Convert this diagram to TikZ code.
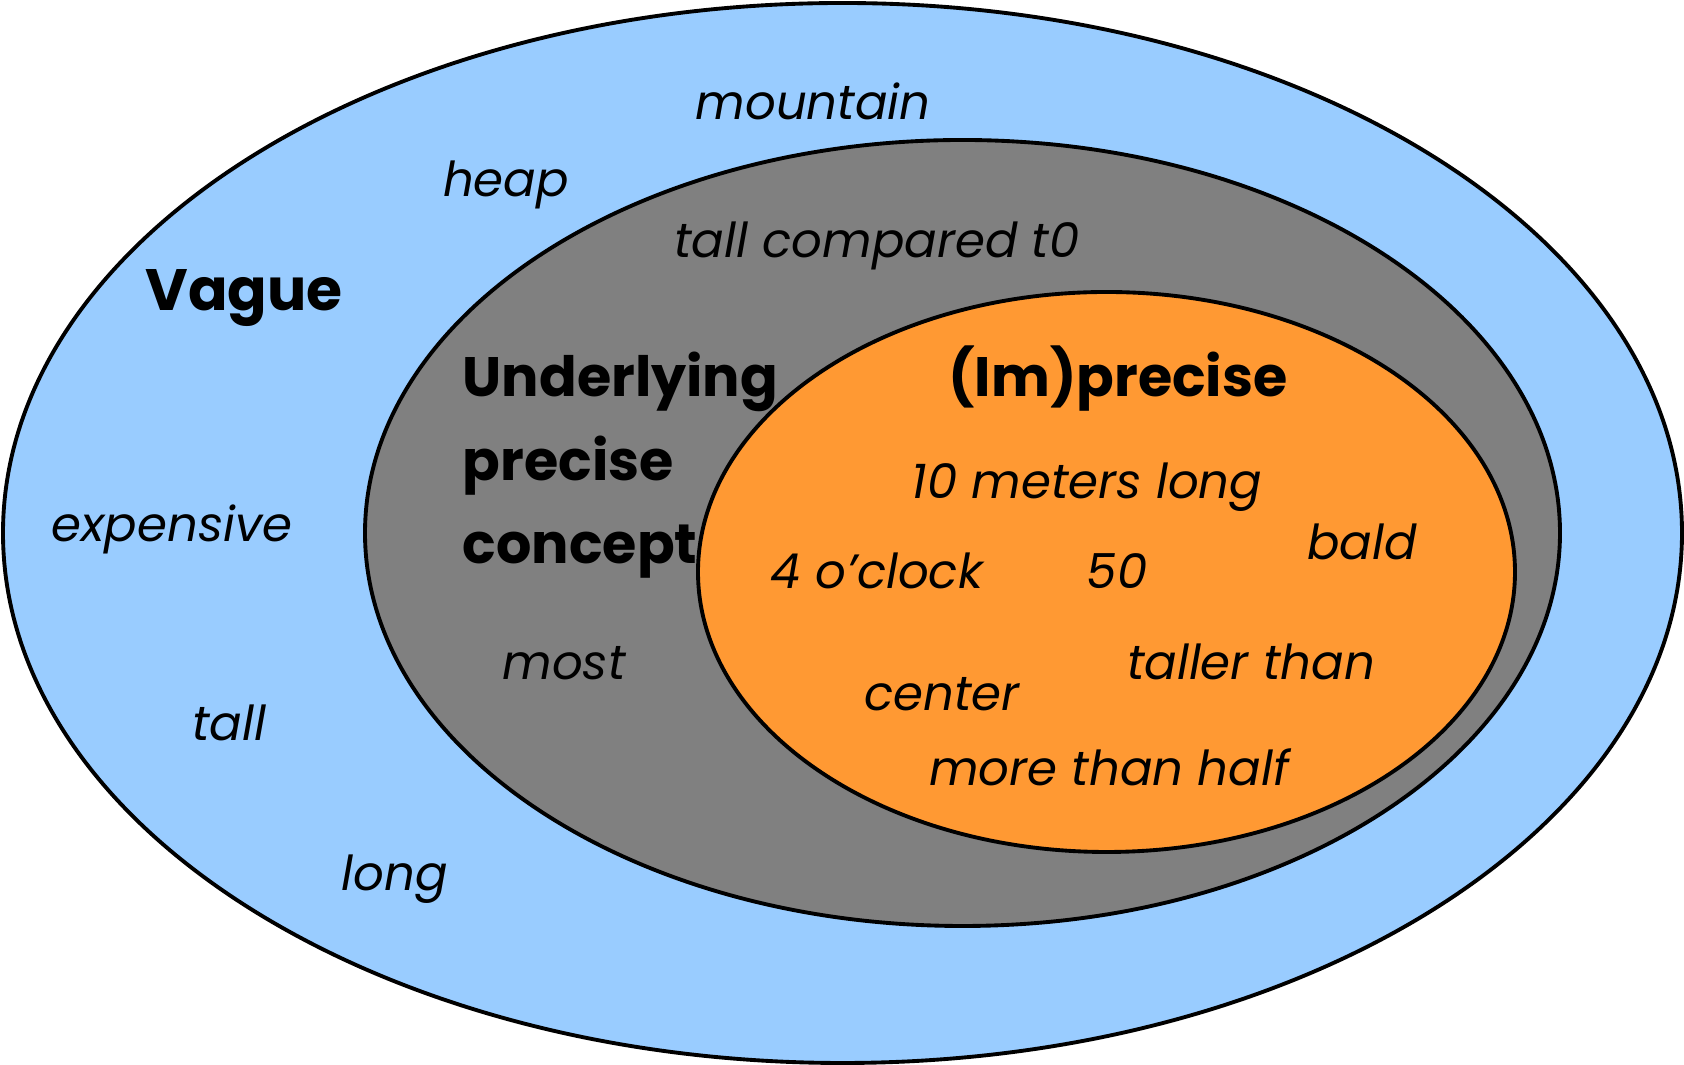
\documentclass[tikz,border=0pt]{standalone}
\usepackage{fontspec}
\setmainfont{Poppins}
\usepackage{tikz}
\usetikzlibrary{positioning}
\usepackage{xcolor}
\definecolor{vagueblue}{RGB}{153,204,255}
\definecolor{conceptgray}{RGB}{128,128,128}
\definecolor{preciseorange}{RGB}{255,153,51}

\begin{document}
\begin{tikzpicture}[
    x=0.01cm, y=-0.01cm,
    word/.style={font=\fontsize{13.7}{16}\selectfont\itshape, anchor=base, inner sep=0pt},
    head/.style={font=\fontsize{15.8}{19}\selectfont\bfseries, anchor=base, inner sep=0pt},
    rim/.style={draw=black, line width=1.1pt}
]
\useasboundingbox (0,0) rectangle (1684,1065);

% Sets
\filldraw[rim, fill=vagueblue] (842.5,533) ellipse [x radius=839.5, y radius=530];
\filldraw[rim, fill=conceptgray] (962.5,533) ellipse [x radius=597.5, y radius=393];
\filldraw[rim, fill=preciseorange] (1106.5,572) ellipse [x radius=408.5, y radius=280];

% Vague
\node[head, font=\fontsize{16.6}{20}\selectfont\bfseries] (vague) at (244,311) {Vague};
\node[word] (mountain) at (813,120) {mountain};
\node[word] (heap) at (506,197) {heap};
\node[word] (expensive) at (172,542) {expensive};
\node[word] (tall) at (229,741) {tall};
\node[word] (long) at (395,891) {long};

% Underlying precise concept
\node[head, anchor=base west] (under1) at (462,397) {Underlying};
\node[head, anchor=base west] (under2) at (462,481) {precise};
\node[head, anchor=base west] (under3) at (462,564) {concept};
\node[word] (compared) at (877,258) {tall compared t0};
\node[word] (most) at (564,680) {most};

% (Im)precise
\node[head] (imprecise) at (1118,397) {(Im)precise};
\node[word] (meters) at (1087,499) {10 meters long};
\node[word] (bald) at (1362,560) {bald};
\node[word] (clock) at (877,589) {4 o’clock};
\node[word] (fifty) at (1117,589) {50};
\node[word] (taller) at (1251,680) {taller than};
\node[word] (center) at (942,711) {center};
\node[word] (half) at (1109,786) {more than half};
\end{tikzpicture}
\end{document}
